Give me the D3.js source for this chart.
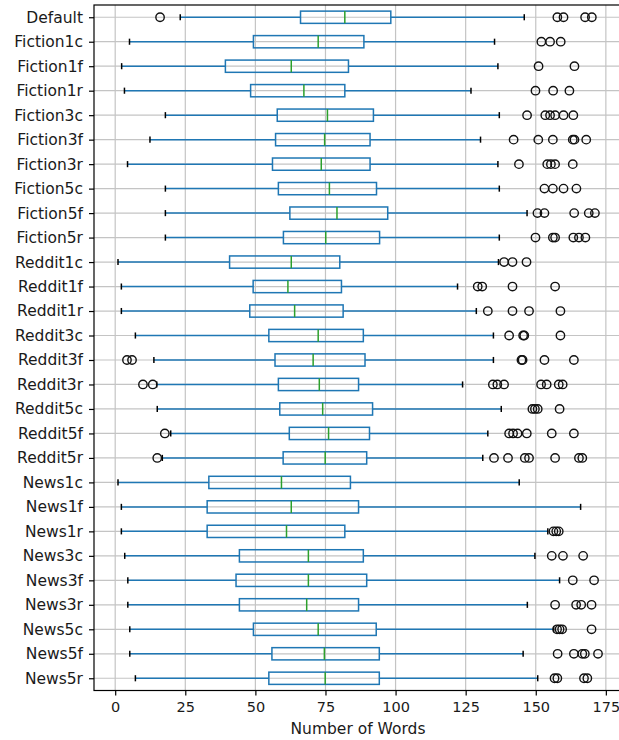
<!DOCTYPE html>
<html>
<head>
<meta charset="utf-8">
<script src="https://cdn.jsdelivr.net/npm/d3@7/dist/d3.min.js"></script>
<style>
  html, body { margin: 0; padding: 0; background: #fff; }
  svg { display: block; font-family: "DejaVu Sans", sans-serif; }
</style>
</head>
<body>
<svg id="chart" width="619" height="740"></svg>
<script>
// Word-count distributions per configuration (horizontal box plots)
const categories = [
  "Default", "Fiction1c", "Fiction1f", "Fiction1r", "Fiction3c", "Fiction3f", "Fiction3r",
  "Fiction5c", "Fiction5f", "Fiction5r", "Reddit1c", "Reddit1f", "Reddit1r", "Reddit3c",
  "Reddit3f", "Reddit3r", "Reddit5c", "Reddit5f", "Reddit5r", "News1c", "News1f", "News1r",
  "News3c", "News3f", "News3r", "News5c", "News5f", "News5r"
];
const whiskerLow = [23.2, 5.1, 2.3, 3.3, 17.9, 12.4, 4.4, 17.9, 17.9, 17.9, 1.0, 2.2, 2.2, 7.2,
  13.8, 14.8, 15.0, 19.8, 16.8, 1.0, 2.2, 2.2, 3.4, 4.5, 4.5, 5.2, 5.2, 7.2];
const q1 = [66.1, 49.3, 39.3, 48.3, 57.8, 57.2, 56.1, 58.2, 62.3, 60.0, 40.8, 49.2, 48.0, 54.8,
  57.0, 58.2, 58.7, 62.1, 59.9, 33.4, 32.8, 32.8, 44.3, 43.1, 44.3, 49.3, 55.9, 54.8];
const median = [81.9, 72.4, 62.8, 67.3, 75.7, 74.7, 73.5, 76.4, 79.1, 75.1, 62.8, 61.6, 64.0, 72.4,
  70.6, 72.8, 74.0, 76.1, 74.9, 59.3, 62.8, 61.1, 68.9, 68.9, 68.3, 72.4, 74.6, 74.9];
const q3 = [98.3, 88.7, 83.2, 81.9, 92.1, 90.9, 90.9, 93.2, 97.2, 94.3, 80.1, 80.7, 81.3, 88.5,
  89.1, 86.8, 91.8, 90.7, 89.7, 83.9, 86.8, 81.9, 88.5, 89.7, 86.8, 93.1, 94.2, 94.2];
const whiskerHigh = [145.9, 135.3, 136.5, 126.9, 137.0, 130.3, 136.5, 137.0, 146.9, 137.0, 136.7,
  122.1, 128.8, 134.9, 134.9, 123.9, 137.7, 132.9, 131.1, 144.1, 166.0, 154.3, 149.7, 158.5,
  147.0, 156.4, 145.5, 150.7];
const outliers = [
  [16.0, 157.7, 159.9, 167.6, 170.0],
  [152.0, 155.1, 158.9],
  [151.0, 163.8],
  [149.9, 156.2, 162.0],
  [146.9, 153.4, 155.1, 156.9, 159.9, 163.4],
  [142.1, 150.9, 156.1, 163.2, 163.8, 168.0],
  [144.0, 154.1, 155.4, 156.9, 163.2],
  [153.1, 156.1, 159.9, 164.5],
  [150.6, 153.1, 163.7, 168.9, 171.1],
  [149.9, 156.1, 156.9, 163.4, 165.4, 167.7],
  [138.7, 141.7, 146.7],
  [129.3, 130.9, 141.7, 156.9],
  [132.9, 141.7, 147.6, 158.8],
  [140.5, 145.5, 145.9, 158.8],
  [4.2, 6.0, 144.9, 145.3, 153.1, 163.6],
  [9.9, 13.4, 134.7, 136.3, 138.7, 151.9, 153.9, 158.2, 159.6],
  [148.8, 149.7, 150.7, 158.5],
  [17.7, 140.5, 141.9, 143.5, 146.8, 155.7, 163.6],
  [15.0, 135.1, 140.1, 146.1, 147.6, 156.9, 165.4, 166.6],
  [],
  [],
  [156.3, 157.3, 158.2],
  [155.7, 159.7, 166.9],
  [163.2, 170.8],
  [156.9, 164.4, 166.2, 169.9],
  [157.6, 158.5, 159.4, 169.9],
  [157.8, 163.6, 166.6, 167.5, 172.2],
  [156.7, 157.7, 167.2, 168.4]
];
const xTicks = [0, 25, 50, 75, 100, 125, 150, 175];
const xLabel = "Number of Words";

const svg = d3.select("#chart");
const plot = { left: 94, right: 622, top: 5, bottom: 690.5 };
const fontSize = 15.5;
const xTickFontSize = 14.5;

// x extent of all values with 5% padding on each side
const allVals = whiskerLow.concat(whiskerHigh, outliers.flat());
const lo = d3.min(allVals), hi = d3.max(allVals);
const pad = (hi - lo) * 0.05;
const x = d3.scaleLinear().domain([lo - pad, hi + pad]).range([plot.left, plot.right]);
const y = d3.scaleLinear().domain([0.5, categories.length + 0.5]).range([plot.top, plot.bottom]);
const rowStep = y(2) - y(1);
const boxH = rowStep * 0.5;
const capH = rowStep * 0.25;

const rows = categories.map((name, i) => ({
  name, pos: i + 1,
  lo: whiskerLow[i], q1: q1[i], med: median[i], q3: q3[i], hi: whiskerHigh[i],
  fliers: outliers[i]
}));

// grid
const grid = svg.append("g").attr("stroke", "#c4c4c4").attr("stroke-width", 1.2);
grid.selectAll("line.v").data(xTicks).join("line")
  .attr("x1", d => x(d)).attr("x2", d => x(d))
  .attr("y1", plot.top).attr("y2", plot.bottom);
grid.selectAll("line.h").data(rows).join("line")
  .attr("x1", plot.left).attr("x2", plot.right)
  .attr("y1", d => y(d.pos)).attr("y2", d => y(d.pos));

// boxes
const g = svg.append("g");
const rowG = g.selectAll("g.row").data(rows).join("g").attr("class", "row");

rowG.append("line") // lower whisker
  .attr("x1", d => x(d.lo)).attr("x2", d => x(d.q1))
  .attr("y1", d => y(d.pos)).attr("y2", d => y(d.pos))
  .attr("stroke", "#1f77b4").attr("stroke-width", 1.5);
rowG.append("line") // upper whisker
  .attr("x1", d => x(d.q3)).attr("x2", d => x(d.hi))
  .attr("y1", d => y(d.pos)).attr("y2", d => y(d.pos))
  .attr("stroke", "#1f77b4").attr("stroke-width", 1.5);
rowG.selectAll("line.cap").data(d => [[d.lo, d.pos], [d.hi, d.pos]]).join("line")
  .attr("class", "cap")
  .attr("x1", d => x(d[0])).attr("x2", d => x(d[0]))
  .attr("y1", d => y(d[1]) - capH / 2).attr("y2", d => y(d[1]) + capH / 2)
  .attr("stroke", "#000").attr("stroke-width", 1.5);
rowG.append("rect")
  .attr("x", d => x(d.q1)).attr("width", d => x(d.q3) - x(d.q1))
  .attr("y", d => y(d.pos) - boxH / 2).attr("height", boxH)
  .attr("fill", "none").attr("stroke", "#1f77b4").attr("stroke-width", 1.5);
rowG.append("line")
  .attr("x1", d => x(d.med)).attr("x2", d => x(d.med))
  .attr("y1", d => y(d.pos) - boxH / 2).attr("y2", d => y(d.pos) + boxH / 2)
  .attr("stroke", "#2ca02c").attr("stroke-width", 1.5);
rowG.selectAll("circle").data(d => d.fliers.map(v => [v, d.pos])).join("circle")
  .attr("cx", d => x(d[0])).attr("cy", d => y(d[1])).attr("r", 4.2)
  .attr("fill", "none").attr("stroke", "#111").attr("stroke-width", 1.4);

// axes
const xAxis = d3.axisBottom(x).tickValues(xTicks).tickSize(5).tickPadding(6);
const yAxis = d3.axisLeft(y).tickValues(rows.map(d => d.pos))
  .tickFormat((d, i) => categories[i]).tickSize(5).tickPadding(6);

const gx = svg.append("g").attr("transform", `translate(0,${plot.bottom})`).call(xAxis);
const gy = svg.append("g").attr("transform", `translate(${plot.left},0)`).call(yAxis);
[gx, gy].forEach(a => {
  a.select(".domain").remove();
  a.selectAll(".tick line").attr("stroke", "#000").attr("stroke-width", 1.2);
  a.selectAll(".tick text").attr("fill", "#1a1a1a")
    .style("font-family", "DejaVu Sans, sans-serif");
});
gy.selectAll(".tick text").style("font-size", fontSize + "px");
gx.selectAll(".tick text").style("font-size", xTickFontSize + "px");

// frame
svg.append("rect")
  .attr("x", plot.left).attr("y", plot.top)
  .attr("width", plot.right - plot.left).attr("height", plot.bottom - plot.top)
  .attr("fill", "none").attr("stroke", "#000").attr("stroke-width", 1.2);

svg.append("text")
  .attr("x", (plot.left + plot.right) / 2).attr("y", 734)
  .attr("text-anchor", "middle").attr("fill", "#1a1a1a")
  .style("font-size", fontSize + "px")
  .text(xLabel);
</script>
</body>
</html>
